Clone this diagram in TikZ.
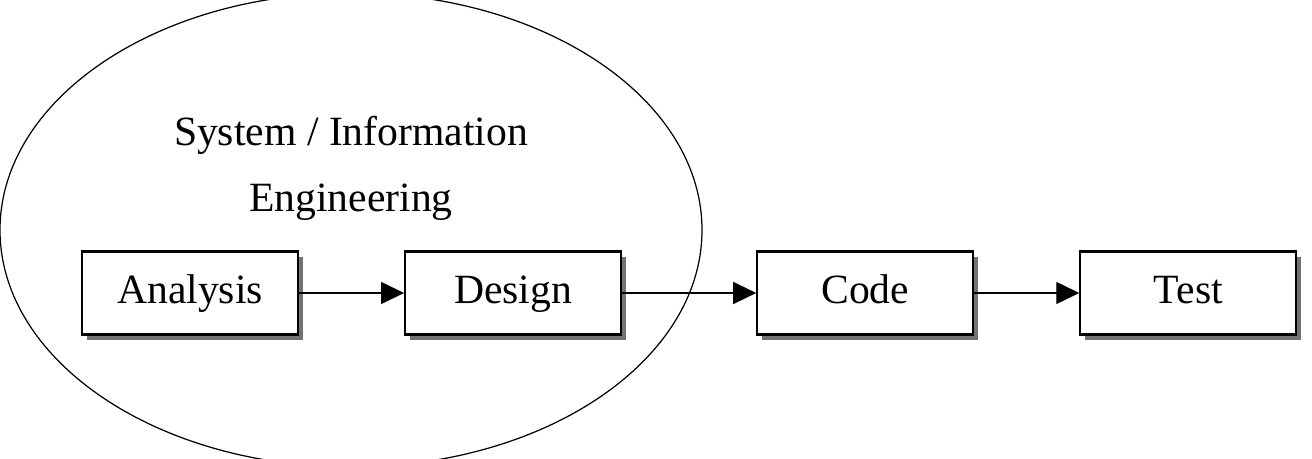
\documentclass[tikz,border=0pt]{standalone}
\usepackage{fontspec}
\setmainfont{Liberation Serif}
\usepackage{tikz}
\usetikzlibrary{shapes.geometric, arrows.meta, positioning, shadows}

\begin{document}
\begin{tikzpicture}[
    node distance=2.1cm,
    stage/.style={rectangle, draw, line width=1.2pt, fill=white,
                  minimum width=4.32cm, minimum height=1.66cm, inner sep=0pt,
                  text height=0.5cm, text depth=0.1cm,
                  drop shadow={shadow xshift=0.1cm, shadow yshift=-0.1cm,
                               fill=black!55, opacity=1},
                  font=\fontsize{23.7}{37.5}\selectfont},
    scope/.style={ellipse, draw, line width=0.7pt,
                  minimum width=14.04cm, minimum height=9.48cm, inner sep=0pt},
    title/.style={align=center, font=\fontsize{23.7}{37.5}\selectfont},
    arrow/.style={-{Triangle[length=0.46cm, width=0.44cm]}, line width=0.8pt},
]
\useasboundingbox (0,0) rectangle (26.24,-9.18);
\clip (0,0) rectangle (26.24,-9.18);

% System / Information Engineering
\node[scope] (syseng) at (7.02,-4.6) {};
\node[title] (label) at (7.02,-3.37) {System / Information\\Engineering};

% Stages
\node[stage] (analysis) at (3.8,-5.86) {Analysis};
\node[stage, right=of analysis] (design) {Design};
\node[stage, right=2.68cm of design] (code) {Code};
\node[stage, right=of code] (test) {Test};

% Arrows
\draw[arrow] (analysis) -- (design);
\draw[arrow] (design) -- (code);
\draw[arrow] (code) -- (test);

\end{tikzpicture}
\end{document}
